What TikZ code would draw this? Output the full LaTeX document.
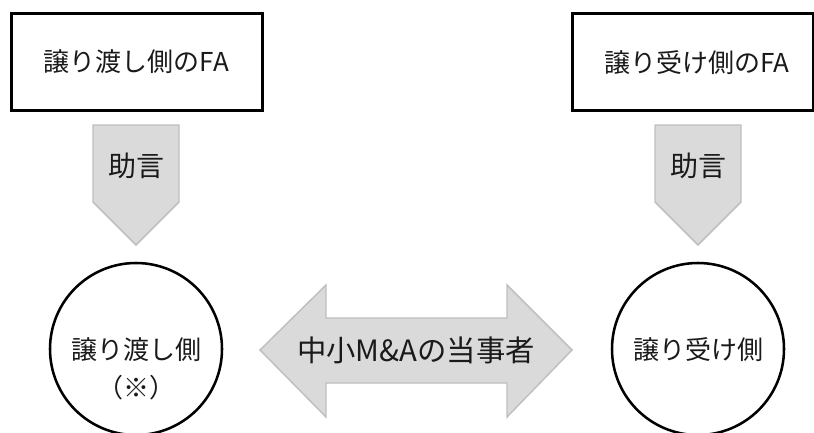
\documentclass[tikz,border=0pt]{standalone}
\usepackage{fontspec}
\setmainfont{Noto Sans CJK JP}
\definecolor{arrfill}{HTML}{DADADA}
\definecolor{arrline}{HTML}{BFBFBF}
\definecolor{txt}{HTML}{1A1A1A}
\begin{document}
\begin{tikzpicture}[x=0.75pt,y=-0.75pt,
  fabox/.style={draw=black, line width=2.25pt, minimum height=72.75pt, inner sep=0pt, font=\fontsize{19.5pt}{23pt}\selectfont, text=txt},
  party/.style={draw=black, circle, line width=1.9pt, minimum size=129pt, inner sep=0pt},
  lbl/.style={inner sep=0pt, text=txt, font=\fontsize{19.5pt}{23pt}\selectfont},
  arr/.style={fill=arrfill, draw=arrline, line width=1.1pt, line join=miter}
]
\useasboundingbox (0,0) rectangle (814,432);
% FA boxes
\node[fabox, minimum width=188.25pt] (lfa) at (136.5,61.5) {譲り渡し側のFA};
\node[fabox, minimum width=180.75pt] (rfa) at (692.5,61.5) {};
\node[lbl] (rfat) at (697,63) {譲り受け側のFA};
% parties
\node[party] (lp) at (136,349) {};
\node[party] (rp) at (698,349) {};
\node[lbl] (lpt1) at (136,350) {譲り渡し側};
\node[lbl] (lpt2) at (136,388) {（※）};
\node[lbl] (rpt) at (698,350) {譲り受け側};
% advice arrows
\draw[arr] (93,125) -- (179,125) -- (179,202) -- (136,245) -- (93,202) -- cycle;
\draw[arr] (655,125) -- (741,125) -- (741,202) -- (698,245) -- (655,202) -- cycle;
\node[lbl, font=\fontsize{21pt}{24pt}\selectfont] (ladv) at (136,166) {助言};
\node[lbl, font=\fontsize{21pt}{24pt}\selectfont] (radv) at (698,166) {助言};
% double arrow
\draw[arr] (260,350) -- (326,285) -- (326,318) -- (507,318) -- (507,285) -- (572,350)
  -- (507,417) -- (507,383) -- (326,383) -- (326,417) -- cycle;
\node[lbl, font=\fontsize{22pt}{25pt}\selectfont] (mid) at (416,350) {中小M\&Aの当事者};
\end{tikzpicture}
\end{document}
